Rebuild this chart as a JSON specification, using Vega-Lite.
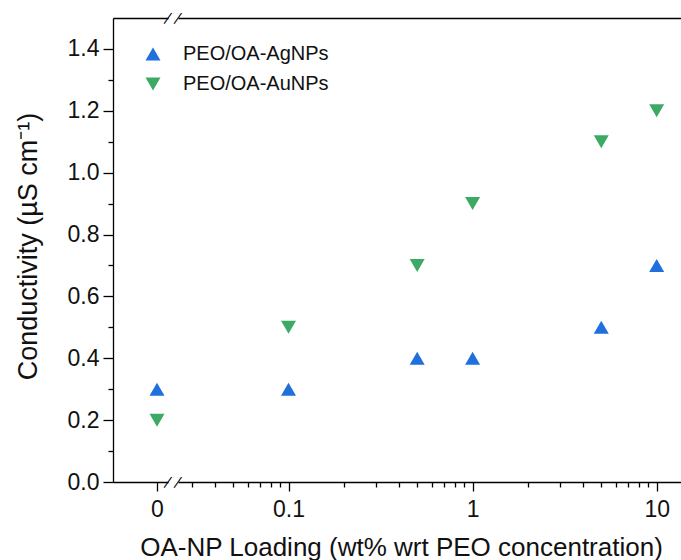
{
  "$schema": "https://vega.github.io/schema/vega-lite/v6.json",
  "padding": {"left": 14, "top": 11, "right": 0, "bottom": 0},
  "bounds": "flush",
  "config": {
    "view": {"stroke": null},
    "font": "Liberation Sans",
    "axis": {
      "labelFont": "Liberation Sans", "titleFont": "Liberation Sans",
      "labelFontSize": 23, "titleFontSize": 26, "titleFontWeight": "normal",
      "domainColor": "#000", "tickColor": "#000", "domainWidth": 1.3, "tickWidth": 1.3,
      "labelColor": "#111", "titleColor": "#111", "grid": false
    },
    "legend": {
      "labelFont": "Liberation Sans", "labelFontSize": 20, "labelColor": "#111",
      "symbolSize": 225, "rowPadding": 10, "labelOffset": 20, "symbolStrokeWidth": 0, "symbolOpacity": 1
    }
  },
  "datasets": {
    "pts": [
      {"loading": 0, "conductivity": 0.3, "series": "PEO/OA-AgNPs"},
      {"loading": 0.1, "conductivity": 0.3, "series": "PEO/OA-AgNPs"},
      {"loading": 0.5, "conductivity": 0.4, "series": "PEO/OA-AgNPs"},
      {"loading": 1, "conductivity": 0.4, "series": "PEO/OA-AgNPs"},
      {"loading": 5, "conductivity": 0.5, "series": "PEO/OA-AgNPs"},
      {"loading": 10, "conductivity": 0.7, "series": "PEO/OA-AgNPs"},
      {"loading": 0, "conductivity": 0.2, "series": "PEO/OA-AuNPs"},
      {"loading": 0.1, "conductivity": 0.5, "series": "PEO/OA-AuNPs"},
      {"loading": 0.5, "conductivity": 0.7, "series": "PEO/OA-AuNPs"},
      {"loading": 1, "conductivity": 0.9, "series": "PEO/OA-AuNPs"},
      {"loading": 5, "conductivity": 1.1, "series": "PEO/OA-AuNPs"},
      {"loading": 10, "conductivity": 1.2, "series": "PEO/OA-AuNPs"}
    ],
    "brk": [{"c": 0}, {"c": 1.5}]
  },
  "spacing": 10,
  "resolve": {"scale": {"x": "independent", "y": "shared", "color": "shared", "shape": "shared"}},
  "hconcat": [
    {
      "width": 55, "height": 464,
      "resolve": {"axis": {"x": "independent", "y": "independent"}},
      "layer": [
        {
          "data": {"name": "pts"},
          "transform": [{"filter": "datum.loading == 0"}],
          "mark": {"type": "point", "filled": true, "opacity": 1, "size": 225, "strokeWidth": 0},
          "encoding": {
            "x": {"field": "loading", "type": "quantitative", "scale": {"domain": [-0.8, 0.2], "nice": false, "zero": false},
                  "axis": {"orient": "bottom", "values": [0], "tickSize": 9, "labelPadding": 7, "title": null, "format": "~g"}},
            "y": {"field": "conductivity", "type": "quantitative", "scale": {"domain": [0, 1.5], "nice": false},
                  "axis": {"orient": "left", "values": [0, 0.2, 0.4, 0.6, 0.8, 1.0, 1.2, 1.4], "format": ".1f", "tickSize": 10, "labelPadding": 4, "titlePadding": 25, "titleFontSize": 27, "titleY": 228, "title": "Conductivity (µS cm⁻¹)"}},
            "color": {"field": "series", "type": "nominal", "scale": {"domain": ["PEO/OA-AgNPs", "PEO/OA-AuNPs"], "range": ["#1f6fdc", "#3caa64"]},
                      "legend": {"title": null, "orient": "none", "legendX": 30, "legendY": 26}},
            "shape": {"field": "series", "type": "nominal", "scale": {"domain": ["PEO/OA-AgNPs", "PEO/OA-AuNPs"], "range": ["triangle-up", "triangle-down"]},
                      "legend": {"title": null, "orient": "none", "legendX": 30, "legendY": 26}}
          }
        },
        {
          "data": {"name": "pts"},
          "transform": [{"filter": "datum.loading == 0"}],
          "mark": {"type": "point", "opacity": 0},
          "encoding": {
            "x": {"field": "loading", "type": "quantitative",
                  "axis": {"orient": "top", "values": [], "labels": false, "ticks": false, "title": null, "domain": true}},
            "y": {"field": "conductivity", "type": "quantitative",
                  "axis": {"orient": "left", "values": [0.1, 0.3, 0.5, 0.7, 0.9, 1.1, 1.3], "labels": false, "tickSize": 5, "domain": false, "title": null}}
          }
        },
        {
          "data": {"name": "brk"},
          "mark": {"type": "text", "text": "|", "fontSize": 14, "angle": 35, "align": "center", "baseline": "middle", "color": "#000"},
          "encoding": {
            "x": {"datum": 0.2, "type": "quantitative", "axis": null},
            "y": {"field": "c", "type": "quantitative", "axis": null}
          }
        }
      ]
    },
    {
      "width": 505, "height": 464,
      "resolve": {"axis": {"x": "independent", "y": "independent"}},
      "layer": [
        {
          "data": {"name": "pts"},
          "transform": [{"filter": "datum.loading > 0"}],
          "mark": {"type": "point", "filled": true, "opacity": 1, "size": 225, "strokeWidth": 0},
          "encoding": {
            "x": {"field": "loading", "type": "quantitative", "scale": {"type": "log", "domain": [0.0251, 13.9], "nice": false},
                  "axis": {"orient": "bottom", "values": [0.1, 1, 10], "format": "~g", "tickSize": 9, "labelPadding": 7, "title": "OA-NP Loading (wt% wrt PEO concentration)", "titlePadding": 13, "titleX": 223}},
            "y": {"field": "conductivity", "type": "quantitative", "scale": {"domain": [0, 1.5], "nice": false}, "axis": null},
            "color": {"field": "series", "type": "nominal"},
            "shape": {"field": "series", "type": "nominal"}
          }
        },
        {
          "data": {"name": "pts"},
          "transform": [{"filter": "datum.loading > 0"}],
          "mark": {"type": "point", "opacity": 0},
          "encoding": {
            "x": {"field": "loading", "type": "quantitative",
                  "axis": {"orient": "bottom", "values": [0.03, 0.04, 0.05, 0.06, 0.07, 0.08, 0.09, 0.2, 0.3, 0.4, 0.5, 0.6, 0.7, 0.8, 0.9, 2, 3, 4, 5, 6, 7, 8, 9], "labels": false, "tickSize": 5, "domain": false, "title": null}},
            "y": {"field": "conductivity", "type": "quantitative", "axis": null}
          }
        },
        {
          "data": {"name": "pts"},
          "transform": [{"filter": "datum.loading > 0"}],
          "mark": {"type": "point", "opacity": 0},
          "encoding": {
            "x": {"field": "loading", "type": "quantitative",
                  "axis": {"orient": "top", "values": [], "labels": false, "ticks": false, "title": null, "domain": true}},
            "y": {"field": "conductivity", "type": "quantitative", "axis": null}
          }
        },
        {
          "data": {"name": "brk"},
          "mark": {"type": "text", "text": "|", "fontSize": 14, "angle": 35, "align": "center", "baseline": "middle", "color": "#000"},
          "encoding": {
            "x": {"datum": 0.0251, "type": "quantitative", "axis": null},
            "y": {"field": "c", "type": "quantitative", "axis": null}
          }
        }
      ]
    }
  ]
}
